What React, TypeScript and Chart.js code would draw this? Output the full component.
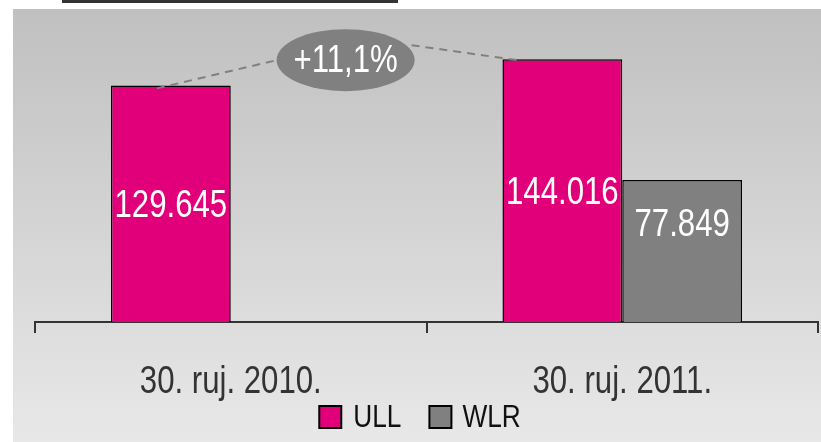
import { useEffect, useRef } from "react";
import { Chart, registerables } from "chart.js";

Chart.register(...registerables);

const categories = ["30. ruj. 2010.", "30. ruj. 2011."];
const seriesNames = ["ULL", "WLR"];
const ullValues: (number | null)[] = [129645, 144016];
const wlrValues: (number | null)[] = [null, 77849];
const growthLabel = "+11,1%";

const FONT = '"Liberation Sans", Arial, sans-serif';
const SQUEEZE = 0.82;
const MAGENTA = "#e2007a";
const GREY = "#808080";

const fmt = (n: number) => String(n).replace(/\B(?=(\d{3})+(?!\d))/g, ".");

function narrowText(
  ctx: CanvasRenderingContext2D,
  text: string,
  x: number,
  y: number,
  size: number,
  color: string,
  align: CanvasTextAlign = "center"
) {
  ctx.save();
  ctx.translate(x, y);
  ctx.scale(SQUEEZE, 1);
  ctx.font = `${size}px ${FONT}`;
  ctx.fillStyle = color;
  ctx.textAlign = align;
  ctx.textBaseline = "middle";
  ctx.fillText(text, 0, 0);
  ctx.restore();
}

function narrowWidth(ctx: CanvasRenderingContext2D, text: string, size: number) {
  ctx.save();
  ctx.font = `${size}px ${FONT}`;
  const w = ctx.measureText(text).width * SQUEEZE;
  ctx.restore();
  return w;
}

const backgroundPlugin = {
  id: "bg",
  beforeDraw(chart: any) {
    const { ctx, width, height } = chart;
    ctx.save();
    ctx.fillStyle = "#ffffff";
    ctx.fillRect(0, 0, width, height);
    const g = ctx.createLinearGradient(0, 9, 0, height);
    g.addColorStop(0, "#c0c0c0");
    g.addColorStop(1, "#e8e8e8");
    ctx.fillStyle = g;
    ctx.fillRect(13, 9, width - 13, height - 9);
    ctx.fillStyle = "#333333";
    ctx.fillRect(62, 0, 336, 3);
    ctx.restore();
  },
};

const textPlugin = {
  id: "texts",
  afterDatasetsDraw(chart: any) {
    const { ctx } = chart;
    const fractions = [0.5, 0.3];

    // value labels inside bars
    chart.data.datasets.forEach((ds: any, di: number) => {
      const meta = chart.getDatasetMeta(di);
      meta.data.forEach((bar: any, i: number) => {
        const v = ds.data[i];
        if (v == null) return;
        const y = bar.y + (bar.base - bar.y) * fractions[di] + 3;
        narrowText(ctx, fmt(v), bar.x, y, 38, "#ffffff");
      });
    });

    // category labels
    const xs = chart.scales.x;
    const labelY = chart.chartArea.bottom + 61;
    chart.data.labels.forEach((lab: string, i: number) => {
      narrowText(ctx, lab, xs.getPixelForValue(i), labelY, 38, "#333333");
    });

    // growth annotation between the two ULL bars
    const m = chart.getDatasetMeta(0);
    const b0 = m.data[0];
    const b1 = m.data[1];
    const cx = (b0.x + b1.x) / 2 - 21;
    const cy = b1.y + 1;
    const rx = 69;
    const ry = 31;
    ctx.save();
    ctx.strokeStyle = GREY;
    ctx.lineWidth = 2;
    ctx.setLineDash([8, 6]);
    ctx.beginPath();
    ctx.moveTo(b0.x - 14, b0.y + 3);
    ctx.lineTo(cx - rx, cy);
    ctx.moveTo(cx + 66, cy - 15);
    ctx.lineTo(b1.x - 45, b1.y + 1);
    ctx.stroke();
    ctx.setLineDash([]);
    ctx.fillStyle = GREY;
    ctx.beginPath();
    ctx.ellipse(cx, cy, rx, ry, 0, 0, Math.PI * 2);
    ctx.fill();
    ctx.restore();
    narrowText(ctx, growthLabel, cx, cy + 1, 38, "#ffffff");

    // legend
    const box = 22;
    const size = 32;
    const w0 = narrowWidth(ctx, seriesNames[0], size);
    const w1 = narrowWidth(ctx, seriesNames[1], size);
    const total = box + 12 + w0 + 28 + box + 11 + w1;
    let lx = 420 - total / 2;
    const ly = 417;
    const colors = [MAGENTA, GREY];
    seriesNames.forEach((name, i) => {
      ctx.save();
      ctx.fillStyle = colors[i];
      ctx.fillRect(lx, ly - box / 2, box, box);
      ctx.strokeStyle = "#000000";
      ctx.lineWidth = 2;
      ctx.strokeRect(lx, ly - box / 2, box, box);
      ctx.restore();
      lx += box + (i === 0 ? 12 : 11);
      narrowText(ctx, name, lx, ly + 1, size, "#111111", "left");
      lx += (i === 0 ? w0 : w1) + 28;
    });
  },
};

export default function App() {
  const ref = useRef<HTMLCanvasElement>(null);
  useEffect(() => {
    if (!ref.current) return;
    const chart = new Chart(ref.current, {
      type: "bar",
      data: {
        labels: categories,
        datasets: [
          {
            label: seriesNames[0],
            data: ullValues,
            backgroundColor: MAGENTA,
            borderColor: "#000000",
            borderWidth: 1.5,
            barPercentage: 1,
            categoryPercentage: 0.612,
          },
          {
            label: seriesNames[1],
            data: wlrValues,
            backgroundColor: GREY,
            borderColor: "#000000",
            borderWidth: 1.5,
            barPercentage: 1,
            categoryPercentage: 0.612,
          },
        ],
      },
      options: {
        animation: false,
        responsive: false,
        layout: { padding: { top: 30, left: 35, right: 3, bottom: 0 } },
        plugins: {
          tooltip: { enabled: false },
          legend: { display: false },
        },
        scales: {
          x: {
            grid: {
              offset: true,
              drawOnChartArea: false,
              drawTicks: true,
              tickLength: 11,
              color: "#333333",
              lineWidth: 2,
            },
            border: { display: true, color: "#333333", width: 2 },
            ticks: { display: false },
            afterFit: (s: any) => {
              s.height = 120;
            },
          },
          y: { display: false, min: 0, max: 160000 },
        },
      },
      plugins: [backgroundPlugin, textPlugin],
    });
    return () => chart.destroy();
  }, []);
  return (
    <canvas
      ref={ref}
      width={821}
      height={442}
      style={{ position: "absolute", left: 0, top: 0, display: "block" }}
    />
  );
}
